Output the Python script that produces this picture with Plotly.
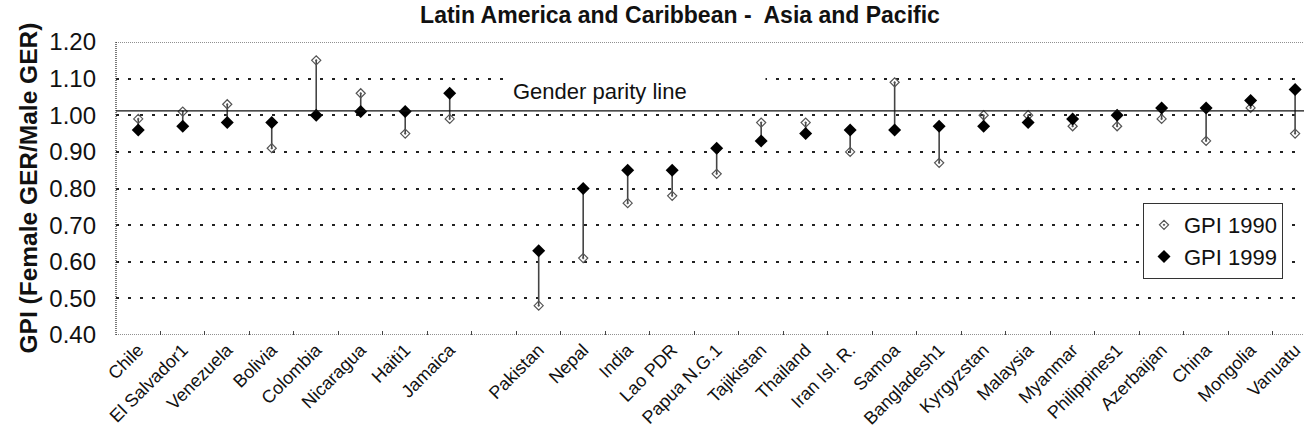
import plotly.graph_objects as go

# Countries, grouped by region (a blank slot separates the two regions)
countries_lac = ["Chile", "El Salvador1", "Venezuela", "Bolivia", "Colombia",
                 "Nicaragua", "Haiti1", "Jamaica"]
countries_asia = ["Pakistan", "Nepal", "India", "Lao PDR", "Papua N.G.1",
                  "Tajikistan", "Thailand", "Iran Isl. R.", "Samoa",
                  "Bangladesh1", "Kyrgyzstan", "Malaysia", "Myanmar",
                  "Philippines1", "Azerbaijan", "China", "Mongolia", "Vanuatu"]
gap_label = " "

# Gender parity index (female GER / male GER)
gpi_1990 = [0.99, 1.01, 1.03, 0.91, 1.15, 1.06, 0.95, 0.99,
            0.48, 0.61, 0.76, 0.78, 0.84, 0.98, 0.98, 0.90, 1.09,
            0.87, 1.00, 1.00, 0.97, 0.97, 0.99, 0.93, 1.02, 0.95]
gpi_1999 = [0.96, 0.97, 0.98, 0.98, 1.00, 1.01, 1.01, 1.06,
            0.63, 0.80, 0.85, 0.85, 0.91, 0.93, 0.95, 0.96, 0.96,
            0.97, 0.97, 0.98, 0.99, 1.00, 1.02, 1.02, 1.04, 1.07]
parity_value = 1.012

y_ticks = [0.40, 0.50, 0.60, 0.70, 0.80, 0.90, 1.00, 1.10, 1.20]

countries = countries_lac + countries_asia
category_order = countries_lac + [gap_label] + countries_asia

FONT = "Liberation Sans, Arial, sans-serif"

# vertical connectors between the two years
conn_x, conn_y = [gap_label], [None]
for c, a, b in zip(countries, gpi_1990, gpi_1999):
    conn_x += [c, c, None]
    conn_y += [a, b, None]

fig = go.Figure()
fig.add_trace(go.Scatter(
    x=conn_x, y=conn_y, mode="lines", showlegend=False, hoverinfo="skip",
    line=dict(color="#444444", width=1.6)))
fig.add_trace(go.Scatter(
    x=countries, y=gpi_1990, mode="markers", name="GPI 1990",
    marker=dict(symbol="diamond-open-dot", size=7, color="#555555",
                line=dict(width=1.2, color="#555555"))))
fig.add_trace(go.Scatter(
    x=countries, y=gpi_1999, mode="markers", name="GPI 1999",
    marker=dict(symbol="diamond", size=10, color="#000000")))

# plot borders (dense dotted)
border = dict(color="#222222", width=1.2, dash="1px,1px")
fig.add_shape(type="line", xref="paper", yref="y", x0=0, x1=1, y0=1.20, y1=1.20, line=border)
fig.add_shape(type="line", xref="paper", yref="y", x0=0, x1=1, y0=0.40, y1=0.40, line=border)
fig.add_shape(type="line", xref="paper", yref="y", x0=0, x1=0, y0=0.40, y1=1.20, line=border)

# gender parity line
fig.add_shape(type="line", xref="paper", yref="y", x0=0, x1=1,
              y0=parity_value, y1=parity_value,
              line=dict(color="#111111", width=1.3))

fig.add_annotation(
    text="Gender parity line", xref="paper", yref="y",
    x=(510 - 116) / 1188, y=1.066, xanchor="left", yanchor="middle",
    width=250, align="left", showarrow=False, bgcolor="white", borderpad=2,
    font=dict(family=FONT, size=22, color="#111111"))

fig.add_annotation(
    text="<b>GPI (Female GER/Male GER)</b>", xref="paper", yref="paper",
    x=(28 - 116) / 1188, y=0.5, xanchor="center", yanchor="middle",
    textangle=-90, showarrow=False,
    font=dict(family=FONT, size=24.5, color="#111111"))

fig.update_layout(
    width=1304, height=441,
    margin=dict(l=116, r=0, t=42, b=106),
    paper_bgcolor="white", plot_bgcolor="white",
    font=dict(family=FONT, color="#111111"),
    title=dict(text="<b>Latin America and Caribbean -  Asia and Pacific</b>",
               x=680 / 1304, xanchor="center", y=0.967, yanchor="middle",
               font=dict(family=FONT, size=23, color="#111111")),
    legend=dict(x=(1143 - 116) / 1188, y=(335 - 203) / 293,
                xanchor="left", yanchor="top",
                bgcolor="white", bordercolor="#333333", borderwidth=1,
                font=dict(family=FONT, size=22, color="#111111"),
                itemwidth=30, tracegroupgap=0),
    showlegend=True,
)

fig.update_xaxes(
    type="category", categoryorder="array", categoryarray=category_order,
    range=[-0.5, 26.2], tickangle=-45, tickson="boundaries",
    ticks="inside", ticklen=4, tickcolor="#444444",
    tickfont=dict(family=FONT, size=18, color="#111111"),
    showgrid=False, zeroline=False, showline=False)

fig.update_yaxes(
    range=[0.40, 1.20], tickvals=y_ticks, tickformat=".2f",
    tickfont=dict(family=FONT, size=24, color="#111111"),
    ticks="", ticklabelstandoff=19,
    showgrid=True, gridcolor="#222222", gridwidth=2, griddash="3px,9px",
    zeroline=False, showline=False)

fig.write_html("out.html")
